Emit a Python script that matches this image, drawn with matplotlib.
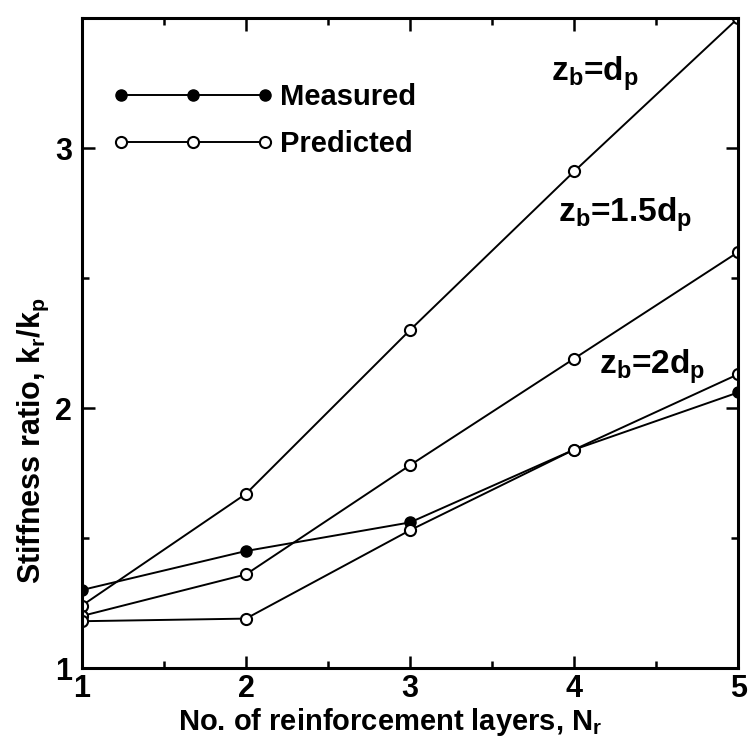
import numpy as np
import matplotlib
matplotlib.use("Agg")
import matplotlib.pyplot as plt
from matplotlib.ticker import MultipleLocator

plt.rcParams['font.family'] = ['Liberation Sans', 'DejaVu Sans']
plt.rcParams['font.weight'] = 'bold'
plt.rcParams['axes.labelweight'] = 'bold'
plt.rcParams['mathtext.fontset'] = 'custom'
plt.rcParams['mathtext.rm'] = 'Liberation Sans:bold'
plt.rcParams['mathtext.it'] = 'Liberation Sans:bold'

# data
layers = [1, 2, 3, 4, 5]
measured = [1.30, 1.45, 1.56, 1.84, 2.06]
pred_zb_1d = [1.24, 1.67, 2.30, 2.91, 3.50]
pred_zb_15d = [1.20, 1.36, 1.78, 2.19, 2.60]
pred_zb_2d = [1.18, 1.19, 1.53, 1.84, 2.13]

fig = plt.figure(figsize=(7.51, 7.51), dpi=100)
ax = fig.add_axes([0.109, 0.1105, 0.874, 0.8655])

lw = 1.4
ms = 8
meas_line, = ax.plot(layers, measured, '-o', color='k', lw=lw, ms=ms,
                     mfc='k', mec='k', label='Measured')
pred_line, = ax.plot(layers, pred_zb_1d, '-o', color='k', lw=lw, ms=ms,
                     mfc='white', mec='k', mew=1.5, label='Predicted')
ax.plot(layers, pred_zb_15d, '-o', color='k', lw=lw, ms=ms,
        mfc='white', mec='k', mew=1.5)
ax.plot(layers, pred_zb_2d, '-o', color='k', lw=lw, ms=ms,
        mfc='white', mec='k', mew=1.5)

# curve labels
lab_fs = 24
ax.text(3.86, 3.285, r'z$_\mathrm{b}$=d$_\mathrm{p}$', fontsize=lab_fs, va='center')
ax.text(3.90, 2.745, r'z$_\mathrm{b}$=1.5d$_\mathrm{p}$', fontsize=lab_fs, va='center')
ax.text(4.15, 2.16, r'z$_\mathrm{b}$=2d$_\mathrm{p}$', fontsize=lab_fs, va='center')

ax.set_xlim(1, 5)
ax.set_ylim(1, 3.5)
ax.xaxis.set_major_locator(MultipleLocator(1))
ax.xaxis.set_minor_locator(MultipleLocator(0.5))
ax.yaxis.set_major_locator(MultipleLocator(1))
ax.yaxis.set_minor_locator(MultipleLocator(0.5))
ax.tick_params(which='both', direction='in', top=True, right=True,
               width=1.8, labelsize=22)
ax.tick_params(which='major', length=9)
ax.tick_params(axis='x', which='major', pad=4)
ax.tick_params(axis='y', which='major', pad=7)
ax.tick_params(which='minor', length=5)
for s in ax.spines.values():
    s.set_linewidth(2.2)

ax.set_xlabel(r'No. of reinforcement layers, N$_\mathrm{r}$', fontsize=21)
ax.set_ylabel(r'Stiffness ratio, k$_\mathrm{r}$/k$_\mathrm{p}$', fontsize=22)
ax.xaxis.set_label_coords(0.47, -0.058)
ax.yaxis.set_label_coords(-0.047, 0.35)

ax.legend(handles=[meas_line, pred_line], numpoints=3, handlelength=5.55,
          handletextpad=0.2, labelspacing=0.65, frameon=False, fontsize=21,
          loc='upper left', bbox_to_anchor=(0.046, 0.90), borderpad=0,
          borderaxespad=0)

fig.savefig('out.png', dpi=100)
